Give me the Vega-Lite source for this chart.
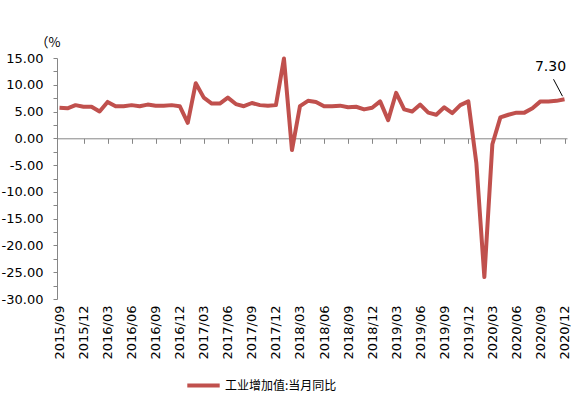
{
  "$schema": "https://vega.github.io/schema/vega-lite/v6.json",
  "width": 510,
  "height": 241,
  "autosize": {"type": "none"},
  "padding": {"left": 57, "top": 58, "right": 18, "bottom": 99},
  "background": "white",
  "config": {
    "view": {"stroke": null},
    "axis": {"grid": false, "labelFont": "DejaVu Sans", "labelFontSize": 13, "labelColor": "#000000", "domainColor": "#868686", "tickColor": "#868686", "domainWidth": 1, "tickWidth": 1, "labelOverlap": false}
  },
  "data": {
    "values": [
      {"month": "2015/09", "value": 5.7, "series": "工业增加值:当月同比"},
      {"month": "2015/10", "value": 5.6, "series": "工业增加值:当月同比"},
      {"month": "2015/11", "value": 6.2, "series": "工业增加值:当月同比"},
      {"month": "2015/12", "value": 5.9, "series": "工业增加值:当月同比"},
      {"month": "2016/01", "value": 5.9, "series": "工业增加值:当月同比"},
      {"month": "2016/02", "value": 5.0, "series": "工业增加值:当月同比"},
      {"month": "2016/03", "value": 6.8, "series": "工业增加值:当月同比"},
      {"month": "2016/04", "value": 6.0, "series": "工业增加值:当月同比"},
      {"month": "2016/05", "value": 6.0, "series": "工业增加值:当月同比"},
      {"month": "2016/06", "value": 6.2, "series": "工业增加值:当月同比"},
      {"month": "2016/07", "value": 6.0, "series": "工业增加值:当月同比"},
      {"month": "2016/08", "value": 6.3, "series": "工业增加值:当月同比"},
      {"month": "2016/09", "value": 6.1, "series": "工业增加值:当月同比"},
      {"month": "2016/10", "value": 6.1, "series": "工业增加值:当月同比"},
      {"month": "2016/11", "value": 6.2, "series": "工业增加值:当月同比"},
      {"month": "2016/12", "value": 6.0, "series": "工业增加值:当月同比"},
      {"month": "2017/01", "value": 2.9, "series": "工业增加值:当月同比"},
      {"month": "2017/02", "value": 10.3, "series": "工业增加值:当月同比"},
      {"month": "2017/03", "value": 7.6, "series": "工业增加值:当月同比"},
      {"month": "2017/04", "value": 6.5, "series": "工业增加值:当月同比"},
      {"month": "2017/05", "value": 6.5, "series": "工业增加值:当月同比"},
      {"month": "2017/06", "value": 7.6, "series": "工业增加值:当月同比"},
      {"month": "2017/07", "value": 6.4, "series": "工业增加值:当月同比"},
      {"month": "2017/08", "value": 6.0, "series": "工业增加值:当月同比"},
      {"month": "2017/09", "value": 6.6, "series": "工业增加值:当月同比"},
      {"month": "2017/10", "value": 6.2, "series": "工业增加值:当月同比"},
      {"month": "2017/11", "value": 6.1, "series": "工业增加值:当月同比"},
      {"month": "2017/12", "value": 6.2, "series": "工业增加值:当月同比"},
      {"month": "2018/01", "value": 14.9, "series": "工业增加值:当月同比"},
      {"month": "2018/02", "value": -2.2, "series": "工业增加值:当月同比"},
      {"month": "2018/03", "value": 6.0, "series": "工业增加值:当月同比"},
      {"month": "2018/04", "value": 7.0, "series": "工业增加值:当月同比"},
      {"month": "2018/05", "value": 6.8, "series": "工业增加值:当月同比"},
      {"month": "2018/06", "value": 6.0, "series": "工业增加值:当月同比"},
      {"month": "2018/07", "value": 6.0, "series": "工业增加值:当月同比"},
      {"month": "2018/08", "value": 6.1, "series": "工业增加值:当月同比"},
      {"month": "2018/09", "value": 5.8, "series": "工业增加值:当月同比"},
      {"month": "2018/10", "value": 5.9, "series": "工业增加值:当月同比"},
      {"month": "2018/11", "value": 5.4, "series": "工业增加值:当月同比"},
      {"month": "2018/12", "value": 5.7, "series": "工业增加值:当月同比"},
      {"month": "2019/01", "value": 6.9, "series": "工业增加值:当月同比"},
      {"month": "2019/02", "value": 3.4, "series": "工业增加值:当月同比"},
      {"month": "2019/03", "value": 8.5, "series": "工业增加值:当月同比"},
      {"month": "2019/04", "value": 5.4, "series": "工业增加值:当月同比"},
      {"month": "2019/05", "value": 5.0, "series": "工业增加值:当月同比"},
      {"month": "2019/06", "value": 6.3, "series": "工业增加值:当月同比"},
      {"month": "2019/07", "value": 4.8, "series": "工业增加值:当月同比"},
      {"month": "2019/08", "value": 4.4, "series": "工业增加值:当月同比"},
      {"month": "2019/09", "value": 5.8, "series": "工业增加值:当月同比"},
      {"month": "2019/10", "value": 4.7, "series": "工业增加值:当月同比"},
      {"month": "2019/11", "value": 6.2, "series": "工业增加值:当月同比"},
      {"month": "2019/12", "value": 6.9, "series": "工业增加值:当月同比"},
      {"month": "2020/01", "value": -4.6, "series": "工业增加值:当月同比"},
      {"month": "2020/02", "value": -25.9, "series": "工业增加值:当月同比"},
      {"month": "2020/03", "value": -1.1, "series": "工业增加值:当月同比"},
      {"month": "2020/04", "value": 3.9, "series": "工业增加值:当月同比"},
      {"month": "2020/05", "value": 4.4, "series": "工业增加值:当月同比"},
      {"month": "2020/06", "value": 4.8, "series": "工业增加值:当月同比"},
      {"month": "2020/07", "value": 4.8, "series": "工业增加值:当月同比"},
      {"month": "2020/08", "value": 5.6, "series": "工业增加值:当月同比"},
      {"month": "2020/09", "value": 6.9, "series": "工业增加值:当月同比"},
      {"month": "2020/10", "value": 6.9, "series": "工业增加值:当月同比"},
      {"month": "2020/11", "value": 7.0, "series": "工业增加值:当月同比"},
      {"month": "2020/12", "value": 7.3, "series": "工业增加值:当月同比"}
    ]
  },
  "encoding": {
    "y": {
      "field": "value", "type": "quantitative",
      "scale": {"domain": [-30, 15], "nice": false, "zero": false},
      "axis": {
        "values": [-30,-27.5,-25,-22.5,-20,-17.5,-15,-12.5,-10,-7.5,-5,-2.5,0,2.5,5,7.5,10,12.5,15],
        "labelExpr": "datum.value % 5 === 0 ? (datum.value < 0 ? '-' : '') + format(abs(datum.value), '.2f') : ''",
        "labelOverlap": false,
        "tickSize": 4, "labelPadding": 10,
        "title": "（%", "titleAngle": 0, "titleX": -22, "titleY": -16, "titleAlign": "left", "titleBaseline": "middle",
        "titleFont": "Noto Sans CJK SC", "titleFontSize": 13, "titleFontWeight": "normal", "titleColor": "#000000"
      }
    }
  },
  "layer": [
    {
      "mark": {"type": "line", "strokeWidth": 4, "strokeJoin": "round"},
      "encoding": {
        "x": {
          "field": "month", "type": "ordinal", "sort": null,
          "scale": {"type": "point", "padding": 0.31},
          "axis": {
            "orient": "bottom", "offset": -160.7, "labels": false, "title": null, "tickSize": 5,
            "values": ["2015/12","2016/03","2016/06","2016/09","2016/12","2017/03","2017/06","2017/09","2017/12","2018/03","2018/06","2018/09","2018/12","2019/03","2019/06","2019/09","2019/12","2020/03","2020/06","2020/09","2020/12"]
          }
        },
        "color": {
          "field": "series", "type": "nominal",
          "scale": {"range": ["#C0504D"]},
          "legend": {
            "orient": "none", "legendX": 128, "legendY": 309, "title": null, "padding": 0,
            "symbolType": "stroke", "symbolStrokeWidth": 4, "symbolSize": 1050,
            "labelFont": "Noto Sans CJK SC", "labelFontSize": 12, "labelColor": "#000000", "labelOffset": 3
          }
        }
      }
    },
    {
      "transform": [{"filter": "datum.month === '2020/12'"}],
      "mark": {"type": "text", "dx": -14, "dy": -32, "font": "DejaVu Sans", "fontSize": 14, "color": "#000000", "align": "center", "baseline": "middle"},
      "encoding": {
        "x": {
          "field": "month", "type": "ordinal", "sort": null,
          "axis": {
            "orient": "bottom", "labelAngle": -90, "ticks": false, "domain": false, "labelPadding": 6, "title": null,
            "values": ["2015/09","2015/12","2016/03","2016/06","2016/09","2016/12","2017/03","2017/06","2017/09","2017/12","2018/03","2018/06","2018/09","2018/12","2019/03","2019/06","2019/09","2019/12","2020/03","2020/06","2020/09","2020/12"]
          }
        },
        "text": {"field": "value", "type": "quantitative", "format": ".2f"}
      }
    },
    {
      "transform": [{"filter": "datum.month === '2020/12'"}],
      "mark": {"type": "rule", "color": "#000000", "strokeWidth": 1, "xOffset": -2, "yOffset": -3, "x2Offset": -11, "y2Offset": -20},
      "encoding": {
        "x": {"field": "month", "type": "ordinal", "sort": null, "axis": null},
        "x2": {"field": "month"},
        "y2": {"field": "value"}
      }
    }
  ],
  "resolve": {"axis": {"x": "independent"}}
}
